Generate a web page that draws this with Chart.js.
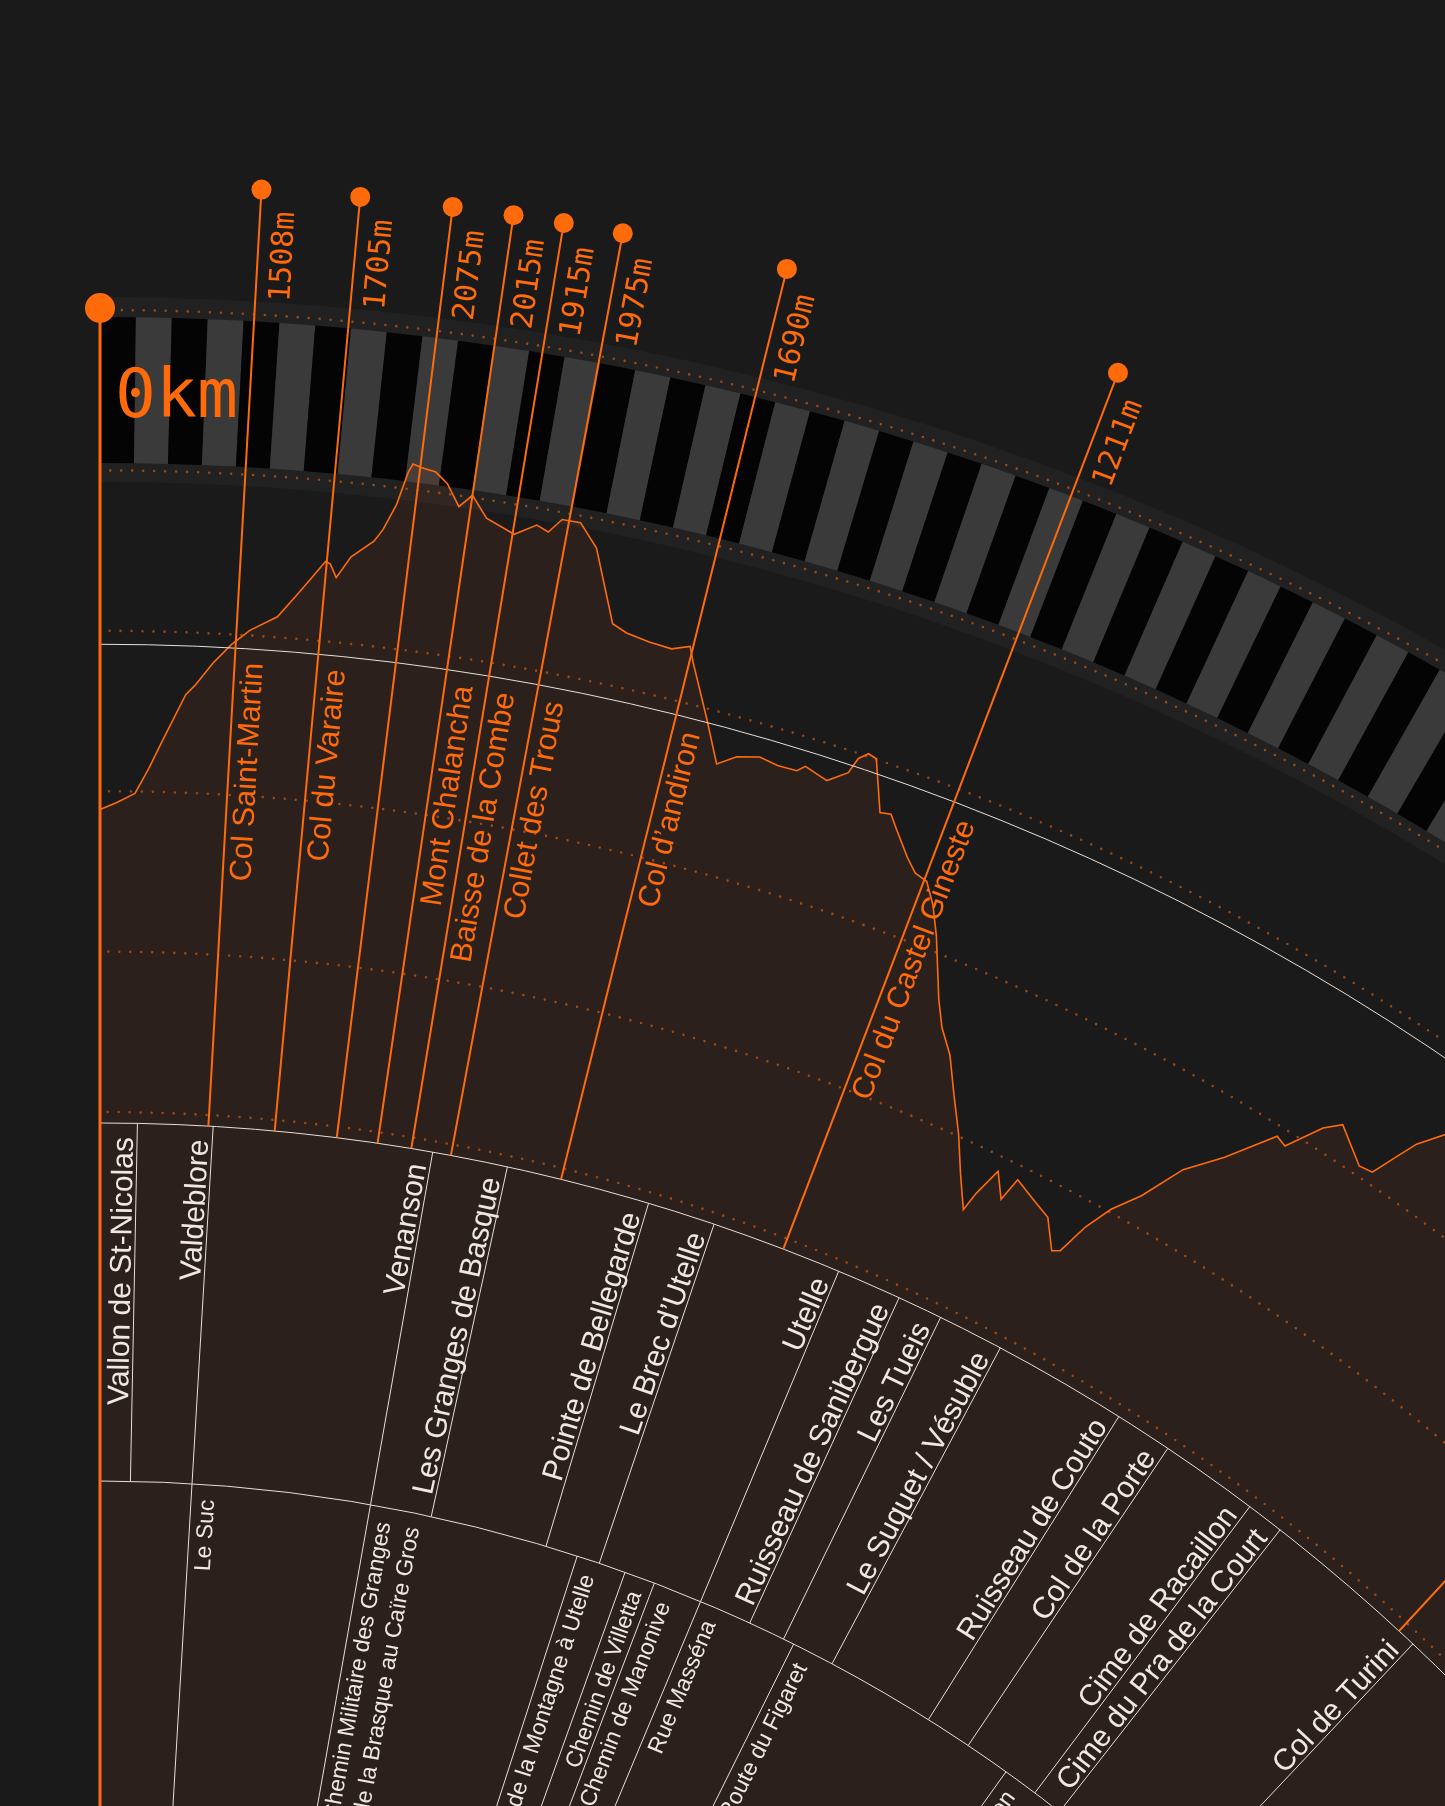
<!DOCTYPE html>
<html>
<head>
<meta charset="utf-8">
<script src="https://cdn.jsdelivr.net/npm/chart.js@4.4.1/dist/chart.umd.min.js"></script>
<style>
  html, body { margin: 0; padding: 0; background: #1a1a1a; overflow: hidden; }
  #wrap { position: relative; width: 1445px; height: 1806px; overflow: hidden; }
  #route { display: block; }
</style>
</head>
<body>
<div id="wrap"><canvas id="route" width="1445" height="1806"></canvas></div>
<script>
'use strict';

// ── Elevation profile: km along the route / altitude in metres ───
const profileKm = [0, 0.57, 1.18, 1.63, 2.06, 2.77, 3.05, 3.61, 4.16, 4.71,
  5.54, 6.06, 6.45, 6.88, 7.03, 7.25, 7.64, 8.28, 8.51, 8.83,
  9.06, 9.17, 9.44, 9.86, 10.24, 10.67, 11.02, 11.53, 12.42, 13.04,
  13.41, 13.75, 14.30, 14.91, 15.85, 16.33, 17.07, 17.79, 18.33, 18.53,
  19.37, 20.06, 20.62, 21.33, 21.95, 22.59, 22.81, 23.60, 24.17, 24.33,
  24.59, 24.87, 25.54, 25.89, 26.23, 26.86, 27.29, 27.73, 28.20, 28.69,
  29.57, 30.05, 30.68, 31.36, 32.10, 32.76, 33.42, 33.59, 33.97, 34.52,
  34.75, 35.65, 36.36, 37.07, 37.35, 37.75, 38.26, 38.98, 39.80, 40.83,
  41.99, 42.39, 43.15, 43.64, 44.86, 45.34, 45.63, 46.02, 46.62, 47.5];
const profileElev = [943, 965, 994, 1073, 1160, 1306, 1335, 1409, 1469, 1516,
  1564, 1632, 1686, 1748, 1742, 1701, 1770, 1826, 1865, 1948,
  2052, 2079, 2071, 2063, 2032, 1966, 2007, 1943, 1907, 1947,
  1932, 1978, 1979, 1911, 1690, 1671, 1659, 1654, 1675, 1630,
  1472, 1341, 1379, 1398, 1388, 1390, 1411, 1389, 1433, 1485,
  1509, 1502, 1347, 1354, 1314, 1245, 1207, 1196, 1135, 1048,
  868, 790, 721, 614, 506, 397, 299, 361, 454, 379,
  457, 421, 395, 308, 321, 423, 510, 593, 728, 827,
  968, 955, 1066, 1108, 1029, 1036, 1100, 1186, 1263, 1295];

// ── Summits / cols with a marker ─────────────────────────────────
const peakKm    = [4.29, 6.92, 9.39, 11.02, 12.37, 13.96, 18.42, 27.64, 56.48];
const peakElev  = [1508, 1705, 2075, 2015, 1915, 1975, 1690, 1211, 1607];
const peakNames = ['Col Saint-Martin', 'Col du Varaire', '', 'Mont Chalancha',
  'Baisse de la Combe', 'Collet des Trous', 'Col d’andiron',
  'Col du Castel Gineste', 'Col de Turini'];

// ── Places band (label sits just before the km where it ends) ────
const placeNames = ['Vallon de St-Nicolas', 'Valdeblore', 'Venanson',
  'Les Granges de Basque', 'Pointe de Bellegarde', 'Le Brec d’Utelle', 'Utelle',
  'Ruisseau de Sanibergue', 'Les Tueis', 'Le Suquet / Vésuble', 'Ruisseau de Couto',
  'Col de la Porte', 'Cime de Racaillon', 'Cime du Pra de la Court', 'Col de Turini'];
const placeEndKm = [1.48, 4.48, 13.23, 16.24, 22.01, 24.73, 30.0, 32.61, 34.43,
  37.08, 42.5, 44.81, 48.79, 50.30, 57.23];

// ── Roads band (label sits just after the km where it starts) ────
const roadNames = [['Le Suc'],
  ['Chemin Militaire des Granges', 'de la Brasque au Caïre Gros'],
  ['Chemin de la Montagne à Utelle'], ['Chemin de Villetta'], ['Chemin de Manonive'],
  ['Rue Masséna'], ['Route du Figaret'], ['Route de l’Authion']];
const roadStartKm = [4.48, 13.23, 23.6, 26.06, 27.58, 30.0, 34.98, 47.05];

const elevTicks = [0, 500, 1000, 1500, 2000, 2500];
const refElev = 1458;          // thin white reference ring
const kmStripes = 80;          // 1 km per stripe in the outer band

// ── Layout (page pixels) ─────────────────────────────────────────
const W = 1445, H = 1806;
const CX = 100, CY = 3038;     // polar centre, far below the page
const RAD_PER_KM = 0.0132;
const R_ZERO = 1926, PX_PER_M = 0.3208;
const R_PLACE_OUT = 1915, R_PLACE_IN = 1557, R_ROAD_IN = 700;
const R_BAND_IN = 2575, R_BAND_OUT = 2721, R_RING_IN = 2556, R_RING_OUT = 2741;
const R_MARK = 2853, R_START = 2730, R_NAME_END = 2380, R_ELEV_LABEL = 2742;
const A_MAX = 1.3;

const ORANGE = '#ff6b0a';
const LINE = '#e6dfd7';
const TEXT = '#eee8e1';
const SANS = "'Liberation Sans', Arial, sans-serif";
const MONO = "'DejaVu Sans Mono', monospace";

const rOf = e => R_ZERO + e * PX_PER_M;
const toXY = (km, r) => ({ x: r * Math.sin(km * RAD_PER_KM), y: r * Math.cos(km * RAD_PER_KM) });

// ── helpers working from the chart scales ────────────────────────
function polarFrame(chart) {
  const xs = chart.scales.x, ys = chart.scales.y;
  const cx = xs.getPixelForValue(0), cy = ys.getPixelForValue(0);
  const k = (xs.getPixelForValue(1000) - cx) / 1000;
  return { cx, cy, k };
}

function arc(ctx, P, r, a0, a1, ccw) {
  ctx.arc(P.cx, P.cy, r * P.k, a0 - Math.PI / 2, a1 - Math.PI / 2, !!ccw);
}

function radial(ctx, P, km, r0, r1) {
  const a = km * RAD_PER_KM, s = Math.sin(a), c = Math.cos(a);
  ctx.moveTo(P.cx + r0 * P.k * s, P.cy - r0 * P.k * c);
  ctx.lineTo(P.cx + r1 * P.k * s, P.cy - r1 * P.k * c);
}

function radialText(ctx, P, txt, km, r, off, align, font, color) {
  ctx.save();
  ctx.translate(P.cx, P.cy);
  ctx.rotate(km * RAD_PER_KM - Math.PI / 2);
  ctx.font = font;
  ctx.fillStyle = color;
  ctx.textAlign = align;
  ctx.textBaseline = 'alphabetic';
  ctx.fillText(txt, r * P.k, off);
  ctx.restore();
}

const polarDecor = {
  id: 'polarDecor',
  beforeDraw(chart) {
    const ctx = chart.ctx;
    ctx.save();
    ctx.fillStyle = '#1a1a1a';
    ctx.fillRect(0, 0, chart.width, chart.height);
    ctx.restore();
  },
  beforeDatasetsDraw(chart) {
    const ctx = chart.ctx, P = polarFrame(chart);
    ctx.save();
    // soft ring behind the km band
    ctx.beginPath();
    arc(ctx, P, R_RING_OUT, 0, A_MAX);
    arc(ctx, P, R_RING_IN, A_MAX, 0, true);
    ctx.closePath();
    ctx.fillStyle = '#212121';
    ctx.fill();
    // km stripes
    for (let i = 0; i < kmStripes; i++) {
      const a0 = i * RAD_PER_KM, a1 = (i + 1) * RAD_PER_KM;
      ctx.beginPath();
      arc(ctx, P, R_BAND_OUT, a0, a1);
      arc(ctx, P, R_BAND_IN, a1, a0, true);
      ctx.closePath();
      ctx.fillStyle = i % 2 === 0 ? '#040404' : '#3a3a3a';
      ctx.fill();
    }
    ctx.restore();
  },
  afterDatasetsDraw(chart) {
    const ctx = chart.ctx, P = polarFrame(chart);
    ctx.save();

    // dotted altitude rings
    ctx.setLineDash([0, 11]);
    ctx.lineCap = 'round';
    ctx.lineWidth = 2.6;
    ctx.strokeStyle = 'rgba(255,107,10,0.55)';
    elevTicks.forEach(e => {
      ctx.beginPath();
      arc(ctx, P, rOf(e), 0.004, A_MAX);
      ctx.stroke();
    });
    ctx.setLineDash([]);
    ctx.lineCap = 'butt';

    // white rings
    ctx.strokeStyle = LINE;
    ctx.lineWidth = 1;
    [rOf(refElev), R_PLACE_OUT, R_PLACE_IN].forEach(r => {
      ctx.beginPath();
      arc(ctx, P, r, 0, A_MAX);
      ctx.stroke();
    });

    // band separators
    ctx.beginPath();
    placeEndKm.forEach(km => radial(ctx, P, km, R_PLACE_IN, R_PLACE_OUT));
    roadStartKm.forEach(km => radial(ctx, P, km, R_ROAD_IN, R_PLACE_IN));
    ctx.stroke();

    // place and road labels
    placeNames.forEach((name, i) => {
      radialText(ctx, P, name, placeEndKm[i], R_PLACE_OUT - 14, -4, 'right', `30px ${SANS}`, TEXT);
    });
    roadNames.forEach((lines, i) => {
      lines.forEach((ln, j) => {
        radialText(ctx, P, ln, roadStartKm[i], R_PLACE_IN - 15, 23 + j * 29, 'right', `23px ${SANS}`, TEXT);
      });
    });

    // summit lines
    ctx.strokeStyle = ORANGE;
    ctx.lineWidth = 2;
    ctx.beginPath();
    peakKm.forEach(km => radial(ctx, P, km, R_PLACE_OUT, R_MARK));
    ctx.stroke();
    // start line
    ctx.lineWidth = 3;
    ctx.beginPath();
    radial(ctx, P, 0, 0, R_START);
    ctx.stroke();

    peakKm.forEach((km, i) => {
      radialText(ctx, P, `${peakElev[i]}m`, km, R_ELEV_LABEL, 34, 'left', `30px ${MONO}`, ORANGE);
      if (peakNames[i]) {
        radialText(ctx, P, peakNames[i], km, R_NAME_END, 28, 'right', `30.5px ${SANS}`, ORANGE);
      }
    });

    // km label at the start
    ctx.save();
    ctx.translate(P.cx, P.cy);
    ctx.font = `68px ${MONO}`;
    ctx.fillStyle = ORANGE;
    ctx.textAlign = 'left';
    ctx.fillText('0km', 15 * P.k, -(R_BAND_IN + 46) * P.k);
    ctx.restore();

    ctx.restore();
  }
};

new Chart(document.getElementById('route'), {
  type: 'scatter',
  data: {
    datasets: [
      {
        label: 'summits',
        data: peakKm.map(km => toXY(km, R_MARK)),
        pointRadius: 10,
        pointHoverRadius: 10,
        pointBackgroundColor: ORANGE,
        pointBorderWidth: 0,
        order: 0,
      },
      {
        label: 'start',
        data: [toXY(0, R_START)],
        pointRadius: 15,
        pointHoverRadius: 15,
        pointBackgroundColor: ORANGE,
        pointBorderWidth: 0,
        order: 1,
      },
      {
        label: 'profile',
        data: profileKm.map((km, i) => toXY(km, rOf(profileElev[i]))),
        showLine: true,
        tension: 0,
        borderColor: ORANGE,
        borderWidth: 1.6,
        pointRadius: 0,
        pointHoverRadius: 0,
        fill: 'origin',
        backgroundColor: 'rgba(255,110,40,0.075)',
        order: 2,
      },
    ],
  },
  options: {
    responsive: false,
    animation: false,
    events: [],
    layout: { padding: 0, autoPadding: false },
    plugins: { legend: { display: false }, tooltip: { enabled: false } },
    scales: {
      x: { type: 'linear', display: false, min: -CX, max: W - CX },
      y: { type: 'linear', display: false, min: CY - H, max: CY },
    },
  },
  plugins: [polarDecor],
});
</script>
</body>
</html>
